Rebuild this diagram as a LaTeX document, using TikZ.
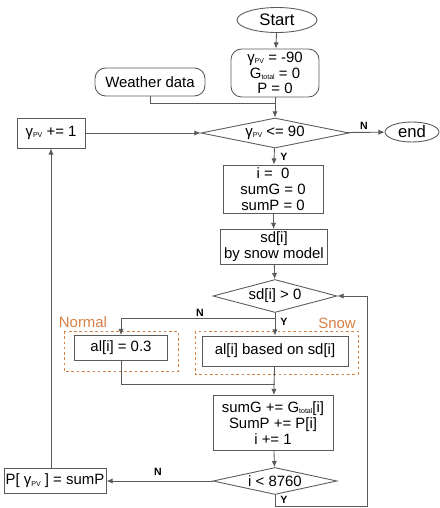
\documentclass[tikz,border=0pt]{standalone}
\usepackage{fontspec}
\setmainfont{Liberation Sans}
\usetikzlibrary{shapes.geometric,arrows.meta}
\definecolor{linegray}{RGB}{90,90,90}
\definecolor{snoworange}{RGB}{214,128,66}
\newcommand{\gpv}{γ\raisebox{-0.15ex}{\fontsize{4}{4}\selectfont PV}}
\newcommand{\gtot}{G\raisebox{-0.15ex}{\fontsize{4}{4}\selectfont total}}

\begin{document}
\begin{tikzpicture}[x=0.02cm,y=-0.02cm,line width=0.5pt,
  every node/.style={font=\fontsize{8.5}{9}\selectfont},
  box/.style={rectangle, draw=linegray, inner sep=1pt, align=center},
  rbox/.style={box, rounded corners=6pt},
  term/.style={ellipse, draw=linegray, inner sep=0pt, font=\fontsize{9.5}{10}\selectfont},
  cond/.style={diamond, draw=linegray, inner sep=0pt, aspect=4},
  group/.style={draw=snoworange, dash pattern=on 1.5pt off 1.5pt},
  lab/.style={font=\bfseries\fontsize{6}{6}\selectfont},
  flow/.style={draw=linegray, -{Latex[length=3.5pt,width=3pt]}}]
\useasboundingbox (0,0) rectangle (440,508);
% Flow diagram
\node[term, minimum width=1.6cm, minimum height=0.5cm] (start) at (277,20) {Start};
\node[rbox, minimum width=1.76cm, minimum height=0.96cm] (init) at (275,73) {\gpv{} = -90\\\gtot{} = 0\\P = 0};
\node[rbox, minimum width=2.2cm, minimum height=0.56cm] (weather) at (150,82) {Weather data};
\node[cond, minimum width=2.96cm, minimum height=0.6cm] (angle) at (275,133) {\gpv{} <= 90};
\node[box, minimum width=1.36cm, minimum height=0.6cm] (inc) at (51,133) {\gpv{} += 1};
\node[term, minimum width=1.08cm, minimum height=0.4cm] (stop) at (412,132) {end};
\node[box, minimum width=2cm, minimum height=0.96cm] (reset) at (273,189) {i =\ \ 0\\sumG = 0\\sumP = 0};
\node[box, minimum width=2.14cm, minimum height=0.7cm] (sd) at (274,247) {sd[i]\\by snow model};
\node[cond, minimum width=2.48cm, minimum height=0.66cm] (snowq) at (275,296) {sd[i] > 0};
\node[box, minimum width=1.86cm, minimum height=0.5cm] (alnorm) at (121,348) {al[i] = 0.3};
\node[box, minimum width=2.92cm, minimum height=0.6cm] (alsnow) at (275,351) {al[i] based on sd[i]};
\node[box, minimum width=2.4cm, minimum height=1.1cm] (update) at (273,423) {sumG += \gtot[i]\\SumP += P[i]\\i += 1};
\node[cond, minimum width=2.48cm, minimum height=0.54cm] (hourq) at (275,481) {i < 8760};
\node[box, minimum width=1.94cm, minimum height=0.5cm] (result) at (55,481) {P[ \gpv{} ] = sumP};

% groups
\draw[group] (64,331) rectangle (178,371);
\draw[group] (195,331) rectangle (358,374);
\node[text=snoworange] (normallab) at (83,322) {Normal};
\node[text=snoworange] (snowlab) at (337,323) {Snow};

\coordinate (wj) at (275,103);
\coordinate (nsplit) at (275,318);
\coordinate (merge) at (275,384);
\coordinate (loopb) at (367,506);

\draw[flow] (start) -- (init);
\draw[flow] (init) -- (angle);
\draw[draw=linegray] (weather.south) |- (wj);
\draw[flow] (inc) -- (angle);
\draw[flow] (angle) -- (stop);
\node[lab] (n1) at (364,126) {N};
\draw[flow] (angle) -- (reset);
\node[lab] (y1) at (284,157) {Y};
\draw[flow] (reset) -- (sd);
\draw[flow] (sd) -- (snowq);
\draw[flow] (snowq) -- (alsnow);
\node[lab] (y2) at (284,322) {Y};
\draw[flow] (nsplit) -| (alnorm.north);
\node[lab] (n2) at (200,313) {N};
\draw[draw=linegray] (alnorm.south) |- (merge);
\draw[flow] (alsnow) -- (update);
\draw[flow] (update) -- (hourq);
\draw[flow] (hourq) -- (result);
\node[lab] (n3) at (158,472) {N};
\draw[flow] (hourq.south) |- (loopb) |- (snowq.east);
\node[lab] (y3) at (284,500) {Y};
\draw[flow] (inc.south |- result.north) -- (inc.south);
\end{tikzpicture}
\end{document}
